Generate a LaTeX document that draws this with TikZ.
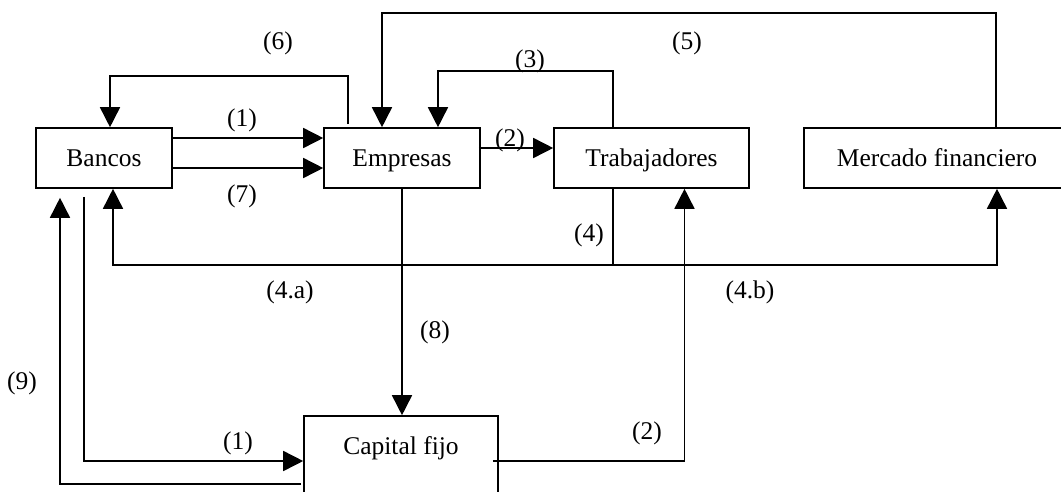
\documentclass[tikz,border=0pt]{standalone}
\usepackage{fontspec}
\setmainfont{Liberation Serif}
\usetikzlibrary{arrows.meta}
\begin{document}
\begin{tikzpicture}[x=1pt,y=-1pt,
  link/.style={line width=1.6pt},
  flow/.style={line width=1.6pt,-{Triangle[length=20pt,width=20pt]}},
  box/.style={draw,line width=1.6pt,minimum height=60pt,inner sep=0pt,
    text height=21pt,text depth=5pt,
    font=\fontsize{25.5}{30}\selectfont},
  tag/.style={inner sep=0pt,font=\fontsize{25.5}{30}\selectfont}]
\useasboundingbox (0,0) rectangle (1061,491);

% boxes
\node[box,minimum width=136pt] (bancos)   at (104,158)   {Bancos};
\node[box,minimum width=156pt] (empresas) at (402,158)   {Empresas};
\node[box,minimum width=195pt] (trab)     at (651.5,158) {Trabajadores};
\node[box,minimum width=266pt] (mercado)  at (937,158)   {Mercado financiero};
\node[box,minimum width=194pt,minimum height=90pt] (capital) at (401,461) {};
\node[tag] (captxt) at (401,448) {Capital fijo};

% flows between the upper boxes
\draw[flow] ([yshift=20pt]bancos.east) -- ([yshift=20pt]empresas.west);
\draw[flow] ([yshift=-10pt]bancos.east) -- ([yshift=-10pt]empresas.west);
\draw[flow] ([xshift=-2pt,yshift=10pt]empresas.east) -- ([yshift=10pt]trab.west);
\draw[flow] ([xshift=-54pt,yshift=3pt]empresas.north) -- ++(0,-48) -| ([xshift=6pt]bancos.north);
\draw[flow] ([xshift=-38.5pt]trab.north) -- ++(0,-56) -| ([xshift=36pt]empresas.north);
\draw[flow] ([xshift=59pt]mercado.north) -- ++(0,-114) -| ([xshift=-20pt]empresas.north);

% flow (4) splitting towards banks and market
\draw[link] ([xshift=-38.5pt]trab.south) -- ++(0,76) coordinate (j4);
\draw[flow] (j4) -| ([xshift=9pt]bancos.south);
\draw[flow] (j4) -| ([xshift=60pt]mercado.south);

% flows through fixed capital
\draw[flow] (empresas.south) -- (empresas.south |- capital.north);
\draw[flow] ([xshift=-20pt,yshift=-8pt]bancos.south) |- (capital.west);
\draw[flow] ([yshift=-23pt,xshift=-2pt]capital.west) -| ([xshift=-44pt,yshift=-9pt]bancos.south);
\draw[flow] ([xshift=-6pt]capital.east) -| ([xshift=33pt]trab.south);

% labels
\node[tag] (l6)  at (278,43)  {(6)};
\node[tag] (l5)  at (687,43)  {(5)};
\node[tag] (l3)  at (530,61)  {(3)};
\node[tag] (l1)  at (242,120) {(1)};
\node[tag] (l7)  at (242,196) {(7)};
\node[tag] (l2)  at (510,140) {(2)};
\node[tag] (l4)  at (589,235) {(4)};
\node[tag] (l4a) at (290,292) {(4.a)};
\node[tag] (l4b) at (750,292) {(4.b)};
\node[tag] (l8)  at (435,332) {(8)};
\node[tag] (l9)  at (22,383)  {(9)};
\node[tag] (l1b) at (238,443) {(1)};
\node[tag] (l2b) at (647,433) {(2)};
\end{tikzpicture}
\end{document}
